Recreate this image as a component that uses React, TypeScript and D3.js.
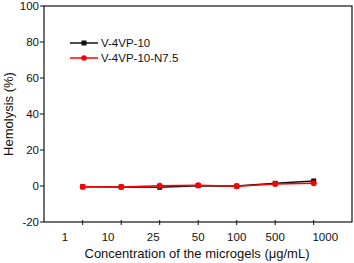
import React from "react";
import * as d3 from "d3";

const concentrations = [1, 2, 3, 4, 5, 6, 7];
const seriesA = [-0.4, -0.5, -0.7, 0.2, 0, 1.5, 2.8];
const seriesB = [-0.4, -0.5, 0.2, 0.4, -0.2, 1.1, 1.5];
const xTickLabels = ["1", "10", "25", "50", "100", "500", "1000"];
const xLabelPos = [0.54, 1.66, 2.83, 4.0, 5.0, 6.0, 7.3];
const yTicks = [-20, 0, 20, 40, 60, 80, 100];

const W = 354;
const H = 263;
const margin = { top: 6, right: 2, bottom: 41, left: 44 };
const font = "Arial, 'Liberation Sans', sans-serif";

export default function App() {
  const x = d3.scaleLinear().domain([1, 7]).range([82.7, 313.7]);
  const y = d3
    .scaleLinear()
    .domain([-20, 100])
    .range([H - margin.bottom, margin.top]);

  const line = d3
    .line<number>()
    .x((_, i) => x(concentrations[i]))
    .y((d) => y(d));

  const left = margin.left;
  const right = W - margin.right;
  const top = margin.top;
  const bottom = H - margin.bottom;

  return (
    <svg
      width={W}
      height={H}
      style={{ position: "absolute", left: 0, top: 0, background: "#fff" }}
      fontFamily={font}
    >
      {/* frame */}
      <rect
        x={left}
        y={top}
        width={right - left}
        height={bottom - top}
        fill="none"
        stroke="#111"
        strokeWidth={1.2}
      />

      {/* y axis */}
      {yTicks.map((t) => (
        <g key={t}>
          <line x1={left - 4} x2={left} y1={y(t)} y2={y(t)} stroke="#111" />
          <text
            x={left - 5}
            y={y(t)}
            dy="0.35em"
            textAnchor="end"
            fontSize={11.5}
            fill="#111"
          >
            {t}
          </text>
        </g>
      ))}

      {/* x axis ticks */}
      {concentrations.map((c) => (
        <line
          key={c}
          x1={x(c)}
          x2={x(c)}
          y1={bottom - 2}
          y2={bottom + 3}
          stroke="#111"
        />
      ))}
      {xTickLabels.map((l, i) => (
        <text
          key={l}
          x={x(xLabelPos[i])}
          y={bottom + 19}
          textAnchor="middle"
          fontSize={11.5}
          fill="#111"
        >
          {l}
        </text>
      ))}

      {/* axis titles */}
      <text
        x={197}
        y={258}
        textAnchor="middle"
        fontSize={13}
        fill="#111"
      >
        Concentration of the microgels (μg/mL)
      </text>
      <text
        transform={`translate(13,${(top + bottom) / 2}) rotate(-90)`}
        textAnchor="middle"
        fontSize={13}
        fill="#111"
      >
        Hemolysis (%)
      </text>

      {/* series */}
      <path d={line(seriesA) || ""} fill="none" stroke="#111" strokeWidth={1.5} />
      {seriesA.map((v, i) => (
        <rect
          key={i}
          x={x(concentrations[i]) - 2.5}
          y={y(v) - 2.5}
          width={5}
          height={5}
          fill="#111"
        />
      ))}
      <path d={line(seriesB) || ""} fill="none" stroke="#f00" strokeWidth={1.5} />
      {seriesB.map((v, i) => (
        <circle key={i} cx={x(concentrations[i])} cy={y(v)} r={3} fill="#f00" />
      ))}

      {/* legend */}
      <line x1={70} x2={98} y1={43} y2={43} stroke="#111" strokeWidth={1.5} />
      <rect x={81.5} y={40.5} width={5} height={5} fill="#111" />
      <text x={101} y={43} dy="0.35em" fontSize={11.5} fill="#111">
        V-4VP-10
      </text>
      <line x1={70} x2={98} y1={58} y2={58} stroke="#f00" strokeWidth={1.5} />
      <circle cx={84} cy={58} r={2.8} fill="#f00" />
      <text x={101} y={58} dy="0.35em" fontSize={11.5} fill="#111">
        V-4VP-10-N7.5
      </text>
    </svg>
  );
}
